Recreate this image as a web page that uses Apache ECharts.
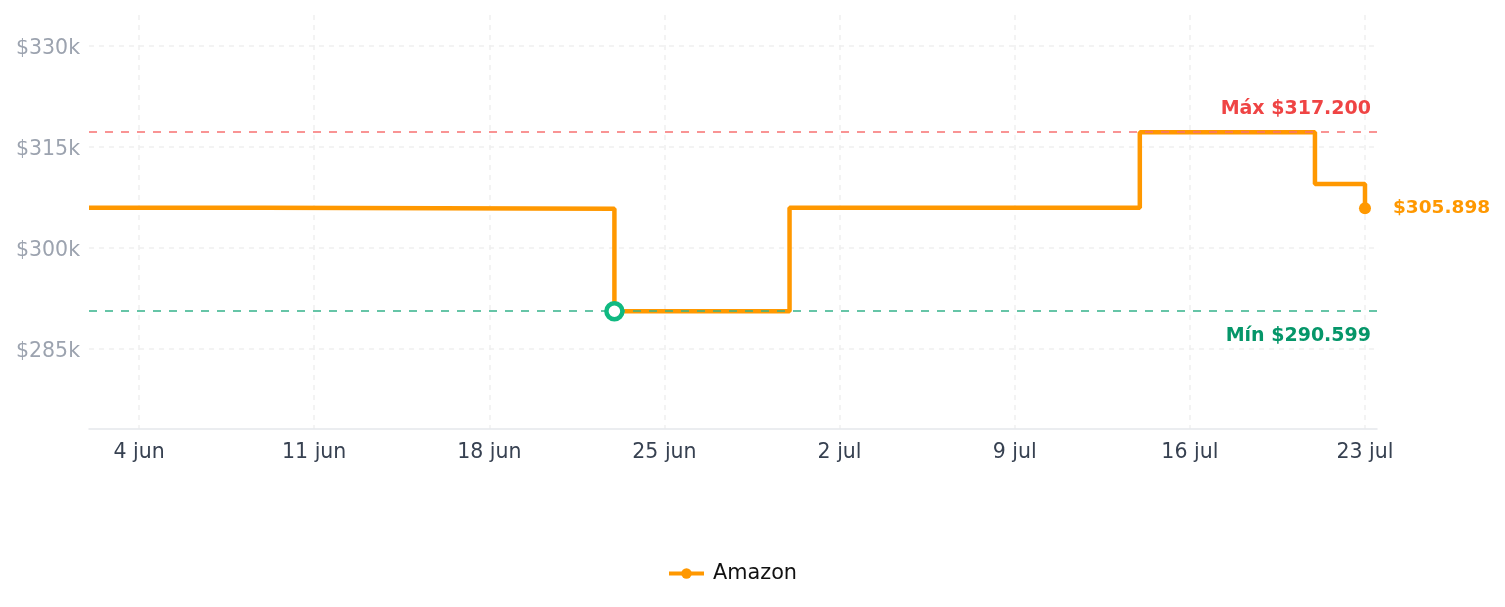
<!DOCTYPE html>
<html>
<head>
<meta charset="utf-8">
<script src="https://cdn.jsdelivr.net/npm/echarts@6/dist/echarts.min.js"></script>
<style>
html,body{margin:0;padding:0;background:#fff;}
#chart{width:1505px;height:607px;}
</style>
</head>
<body>
<div id="chart"></div>
<script>
// Data
const seriesName = 'Amazon';
const dates = ['2024-06-02', '2024-06-09', '2024-06-23', '2024-06-30', '2024-07-14', '2024-07-21', '2024-07-23'];
const prices = [305950, 305800, 290599, 305950, 317200, 309500, 305898];
const xTickDates = ['2024-06-04', '2024-06-11', '2024-06-18', '2024-06-25', '2024-07-02', '2024-07-09', '2024-07-16', '2024-07-23'];
const yTickValues = [285000, 300000, 315000, 330000];
const maxPrice = 317200;
const minPrice = 290599;
const minDate = '2024-06-23';
const lastDate = '2024-07-23';
const lastPrice = 305898;
const monthNames = ['ene','feb','mar','abr','may','jun','jul','ago','sep','oct','nov','dic'];

const DAY = 86400000;
const ts = s => Date.UTC(+s.slice(0,4), +s.slice(5,7)-1, +s.slice(8,10));
const fmtPrice = v => '$' + v.toLocaleString('de-DE');

const chart = echarts.init(document.getElementById('chart'));
const FONT = 'DejaVu Sans';
chart.setOption({
  animation: false,
  textStyle: { fontFamily: FONT },
  grid: { left: 89, right: 128, top: 15, bottom: 178 },
  legend: {
    data: [seriesName], bottom: 18, left: 662,
    itemWidth: 35, itemHeight: 13, itemGap: 10,
    lineStyle: { width: 4 },
    textStyle: { fontSize: 20.8, color: '#111', fontFamily: FONT, padding: [0, 0, 0, 4] }
  },
  xAxis: {
    type: 'value',
    min: ts('2024-06-02'),
    max: ts('2024-07-23') + DAY * 0.48,
    axisLine: { show: true, lineStyle: { color: '#e5e7eb', width: 1.5 } },
    axisTick: { show: false, customValues: xTickDates.map(ts) },
    axisLabel: {
      customValues: xTickDates.map(ts),
      color: '#374151', fontSize: 20.5, margin: 13,
      formatter: v => { const d = new Date(v); return d.getUTCDate() + ' ' + monthNames[d.getUTCMonth()]; }
    },
    splitLine: { show: true, lineStyle: { color: '#f0f0f0', type: [5, 5], width: 1.5 } }
  },
  yAxis: {
    type: 'value',
    min: 273100, max: 334600,
    axisLine: { show: false },
    axisTick: { show: false, customValues: yTickValues },
    axisLabel: {
      customValues: yTickValues,
      color: '#9ca3af', fontSize: 20.5, margin: 9,
      formatter: v => '{a|$' + Math.round(v / 1000) + 'k}',
      rich: { a: { fontSize: 20.5, color: '#9ca3af', fontFamily: FONT, padding: [5, 0, 0, 0] } }
    },
    splitLine: { show: true, lineStyle: { color: '#f0f0f0', type: [5, 5], width: 1.5 } }
  },
  series: [{
    name: seriesName,
    type: 'line',
    step: 'end',
    data: dates.map((d, i) => [ts(d), prices[i]]),
    showSymbol: false,
    symbol: 'circle',
    symbolSize: 12,
    lineStyle: { color: '#ff9800', width: 4.5 },
    itemStyle: { color: '#ff9800' },
    markLine: {
      silent: true,
      symbol: 'none',
      data: [
        {
          yAxis: maxPrice,
          lineStyle: { color: '#f87171', type: [8, 8], width: 1.5 },
          label: { formatter: 'Máx ' + fmtPrice(maxPrice), position: 'insideEndTop', color: '#ef4444', fontWeight: 'bold', fontSize: 19, distance: [6, 14] }
        },
        {
          yAxis: minPrice,
          lineStyle: { color: '#34b38a', type: [8, 8], width: 1.5 },
          label: { formatter: 'Mín ' + fmtPrice(minPrice), position: 'insideEndBottom', color: '#059669', fontWeight: 'bold', fontSize: 19, distance: [6, 15] }
        }
      ]
    },
    markPoint: {
      silent: true,
      data: [
        {
          coord: [ts(minDate), minPrice],
          symbol: 'circle', symbolSize: 16,
          itemStyle: { color: '#fff', borderColor: '#10b981', borderWidth: 4.5 },
          label: { show: false }
        },
        {
          coord: [ts(lastDate), lastPrice],
          symbol: 'circle', symbolSize: 12,
          itemStyle: { color: '#ff9800' },
          label: { show: true, position: 'right', distance: 22, formatter: fmtPrice(lastPrice), color: '#ff9800', fontWeight: 'bold', fontSize: 18.5 }
        }
      ]
    }
  }]
});
</script>
</body>
</html>
